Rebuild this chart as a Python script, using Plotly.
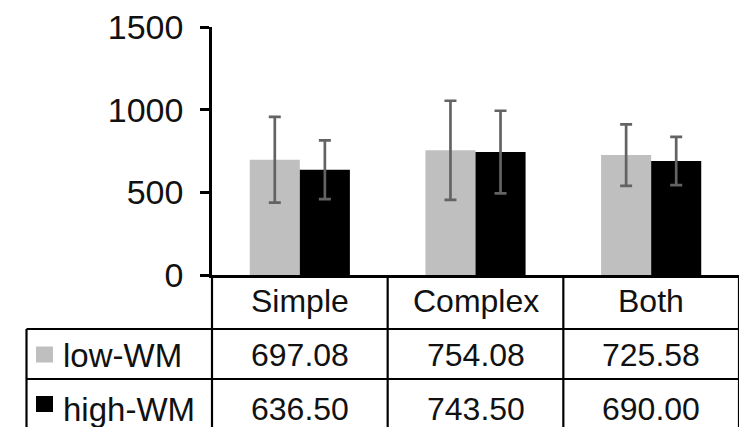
import plotly.graph_objects as go

categories = ["Simple", "Complex", "Both"]
series_names = ["low-WM", "high-WM"]
low_wm = [697.08, 754.08, 725.58]
high_wm = [636.50, 743.50, 690.00]
low_err = [259, 300, 186]
high_err = [178, 250, 146]
y_ticks = [0, 500, 1000, 1500]

# page body has a default 8px margin; compensate so the figure fills the window
OFF = 8
PAGE_W, PAGE_H = 747, 427
W, H = PAGE_W - OFF, PAGE_H - OFF
PLOT_L, PLOT_R, PLOT_T, PLOT_B = 212, 739, 27, 275   # page pixel coords
L, T = PLOT_L - OFF, PLOT_T - OFF
R = W - (PLOT_R - OFF)
B = H - (PLOT_B - OFF)
PW = W - L - R
PH = H - T - B

FONT = "Liberation Sans, Arial, sans-serif"
LOW_C = "#bfbfbf"
HIGH_C = "#000000"
ERR_C = "#636363"


def px(x):
    """page x pixel -> paper coord"""
    return (x - OFF - L) / PW


def py(y):
    """page y pixel -> paper coord"""
    return (H - B - (y - OFF)) / PH


fig = go.Figure()
fig.add_trace(go.Bar(
    x=categories, y=low_wm, name=series_names[0],
    marker=dict(color=LOW_C, line=dict(width=0)),
    error_y=dict(type="data", array=low_err, visible=True,
                 color=ERR_C, thickness=2.7, width=6),
))
fig.add_trace(go.Bar(
    x=categories, y=high_wm, name=series_names[1],
    marker=dict(color=HIGH_C, line=dict(width=0)),
    error_y=dict(type="data", array=high_err, visible=True,
                 color=ERR_C, thickness=2.7, width=6),
))

shapes = []
line_c = "#000000"
lw = 2.2
n = len(categories)
for i in range(n + 1):
    xp = i / n
    shapes.append(dict(type="line", xref="paper", yref="paper",
                       x0=xp, x1=xp, y0=py(PLOT_B), y1=py(PAGE_H + 10),
                       line=dict(color=line_c, width=lw)))
row_lines = [329, 379]
for ry in row_lines:
    shapes.append(dict(type="line", xref="paper", yref="paper",
                       x0=px(26.5), x1=1, y0=py(ry), y1=py(ry),
                       line=dict(color=line_c, width=lw)))
shapes.append(dict(type="line", xref="paper", yref="paper",
                   x0=px(26.5), x1=px(26.5), y0=py(329), y1=py(PAGE_H + 10),
                   line=dict(color=line_c, width=lw)))
key_colors = [LOW_C, HIGH_C]
key_rows = [(346.5, 362.5), (396, 412)]
for c, (a, b) in zip(key_colors, key_rows):
    shapes.append(dict(type="rect", xref="paper", yref="paper",
                       x0=px(36), x1=px(53), y0=py(b), y1=py(a),
                       fillcolor=c, line=dict(width=0)))

annotations = []
TS = 32
header_y = 301
row_y = [355, 409]
for i, cat in enumerate(categories):
    xc = (i + 0.5) / n
    annotations.append(dict(text=cat, x=xc, y=py(header_y), xref="paper", yref="paper",
                            showarrow=False, xanchor="center", yanchor="middle",
                            font=dict(family=FONT, size=TS, color="#111111")))
    for vals, ry in zip([low_wm, high_wm], row_y):
        annotations.append(dict(text=f"{vals[i]:.2f}", x=xc, y=py(ry),
                                xref="paper", yref="paper", showarrow=False,
                                xanchor="center", yanchor="middle",
                                font=dict(family=FONT, size=TS, color="#111111")))
for name, ry in zip(series_names, row_y):
    annotations.append(dict(text=name, x=px(61), y=py(ry), xref="paper", yref="paper",
                            showarrow=False, xanchor="left", yanchor="middle",
                            font=dict(family=FONT, size=TS + 1, color="#111111")))

fig.update_layout(
    width=W, height=H,
    margin=dict(l=L, r=R, t=T, b=B, pad=0, autoexpand=False),
    paper_bgcolor="white", plot_bgcolor="white",
    barmode="group", bargap=0.43, bargroupgap=0,
    showlegend=False,
    shapes=shapes, annotations=annotations,
    font=dict(family=FONT, size=34, color="#111111"),
)
fig.update_yaxes(range=[0, 1500], tickvals=y_ticks, showgrid=False, zeroline=False,
                 showline=True, linecolor="black", linewidth=2.5,
                 ticks="outside", ticklen=9, tickwidth=2.5, tickcolor="black",
                 tickfont=dict(family=FONT, size=34, color="#111111"),
                 ticklabelstandoff=10, ticklabeloverflow="allow", automargin=False)
fig.update_xaxes(showticklabels=False, showgrid=False, showline=True,
                 linecolor="black", linewidth=3, ticks="", zeroline=False,
                 automargin=False)

fig.write_html("out.html")
